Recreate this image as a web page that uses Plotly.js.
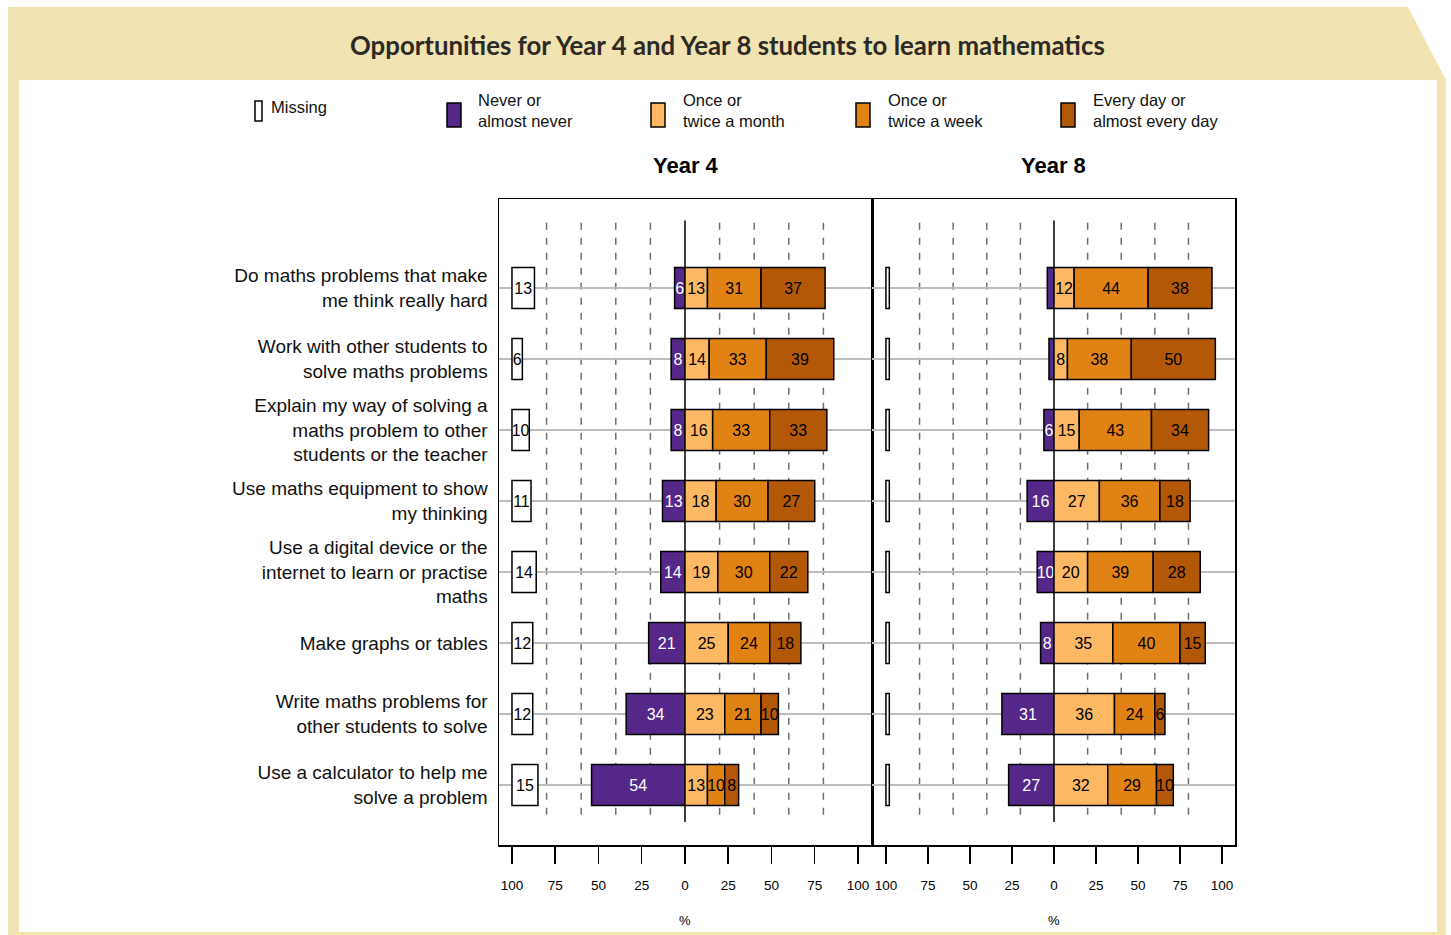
<!DOCTYPE html>
<html>
<head>
<meta charset="utf-8">
<script src="https://cdn.plot.ly/plotly-3.0.1.min.js"></script>
<style>html,body{margin:0;padding:0;background:#fff;}#chart{width:1451px;height:935px;}</style>
</head>
<body>
<div id="chart"></div>
<script>
// ---- data ----
var categories = [
  "Do maths problems that make<br>me think really hard",
  "Work with other students to<br>solve maths problems",
  "Explain my way of solving a<br>maths problem to other<br>students or the teacher",
  "Use maths equipment to show<br>my thinking",
  "Use a digital device or the<br>internet to learn or practise<br>maths",
  "Make graphs or tables",
  "Write maths problems for<br>other students to solve",
  "Use a calculator to help me<br>solve a problem"
];
var seriesNames = ["Missing", "Never or<br>almost never", "Once or<br>twice a month", "Once or<br>twice a week", "Every day or<br>almost every day"];
var seriesColors = ["#ffffff", "#542788", "#fdb863", "#e08214", "#b35806"];
var textColors = ["#000000", "#ffffff", "#000000", "#000000", "#000000"];

var y4Missing = [13, 6, 10, 11, 14, 12, 12, 15];
var y4Never   = [6, 8, 8, 13, 14, 21, 34, 54];
var y4Month   = [13, 14, 16, 18, 19, 25, 23, 13];
var y4Week    = [31, 33, 33, 30, 30, 24, 21, 10];
var y4Daily   = [37, 39, 33, 27, 22, 18, 10, 8];

var y8Missing = [2, 2, 2, 2, 2, 2, 2, 2];
var y8Never   = [4, 3, 6, 16, 10, 8, 31, 27];
var y8Month   = [12, 8, 15, 27, 20, 35, 36, 32];
var y8Week    = [44, 38, 43, 36, 39, 40, 24, 29];
var y8Daily   = [38, 50, 34, 18, 28, 15, 6, 10];

var tickVals = [-100, -75, -50, -25, 0, 25, 50, 75, 100];
var tickText = ["100", "75", "50", "25", "0", "25", "50", "75", "100"];
var panelTitles = ["Year 4", "Year 8"];

// ---- helpers ----
var W = 1451, H = 935;
function X(p) { return p / W; }
function Y(p) { return 1 - p / H; }
var rows = categories.map(function (c, i) { return i; });
var FONT = "Liberation Sans, Arial, Helvetica, sans-serif";

function labels(arr) { return arr.map(function (v) { return v >= 5 ? String(v) : ""; }); }

function panelTraces(d, xa, ya) {
  var missing = d[0], never = d[1], month = d[2], week = d[3], daily = d[4];
  var bases = [
    missing.map(function () { return -100; }),
    never.map(function (v) { return -v; }),
    month.map(function () { return 0; }),
    week.map(function (v, i) { return month[i]; }),
    daily.map(function (v, i) { return month[i] + week[i]; })
  ];
  return d.map(function (vals, k) {
    return {
      type: "bar", orientation: "h",
      x: vals, y: rows, base: bases[k],
      xaxis: xa, yaxis: ya, width: 0.58,
      name: seriesNames[k], showlegend: false, hoverinfo: "skip",
      marker: { color: seriesColors[k], line: { color: "#000000", width: 1.5 } },
      text: labels(vals), textposition: "inside", insidetextanchor: "middle",
      textangle: 0, constraintext: "none",
      insidetextfont: { family: FONT, size: 16, color: textColors[k] }
    };
  });
}

var traces = panelTraces([y4Missing, y4Never, y4Month, y4Week, y4Daily], "x", "y")
  .concat(panelTraces([y8Missing, y8Never, y8Month, y8Week, y8Daily], "x2", "y2"));

// ---- layout ----
var tan = "#f1e3b2";
var yRange = [(845 - 288) / 71, (199 - 288) / 71];
var shapes = [];
// header band & border
shapes.push({ type: "path", xref: "paper", yref: "paper", layer: "below", line: { width: 0 }, fillcolor: tan,
  path: "M" + X(8) + "," + Y(7) + " L" + X(1408) + "," + Y(7) + " L" + X(1446) + "," + Y(80) + " L" + X(8) + "," + Y(80) + " Z" });
shapes.push({ type: "rect", xref: "paper", yref: "paper", layer: "below", line: { width: 0 }, fillcolor: tan, x0: X(8), x1: X(19), y0: Y(80), y1: Y(935) });
shapes.push({ type: "rect", xref: "paper", yref: "paper", layer: "below", line: { width: 0 }, fillcolor: tan, x0: X(1437), x1: X(1446), y0: Y(80), y1: Y(935) });
shapes.push({ type: "rect", xref: "paper", yref: "paper", layer: "below", line: { width: 0 }, fillcolor: tan, x0: X(8), x1: X(1446), y0: Y(932), y1: Y(935) });

// dashed guide lines & zero lines
var dashVals = [-80, -60, -40, -20, 20, 40, 60, 80];
["x", "x2"].forEach(function (xa, pi) {
  var ya = pi === 0 ? "y" : "y2";
  dashVals.forEach(function (v) {
    shapes.push({ type: "line", xref: xa, yref: ya, layer: "below", x0: v, x1: v, y0: -0.92, y1: 7.52,
      line: { color: "#6e6e6e", width: 1.5, dash: "7px,8px" } });
  });
  shapes.push({ type: "line", xref: xa, yref: ya, layer: "below", x0: 0, x1: 0, y0: -0.95, y1: 7.52,
    line: { color: "#000000", width: 1.5 } });
});

// legend
var legendBoxes = [[255, 262, 101, 121], [447, 461, 103, 127], [651, 665, 103, 127], [856, 870, 103, 127], [1061, 1075, 103, 127]];
var legendText = [[269, 107], [476, 110], [681, 110], [886, 110], [1091, 110]];
var annotations = [];
seriesNames.forEach(function (n, k) {
  var b = legendBoxes[k];
  shapes.push({ type: "rect", xref: "paper", yref: "paper", x0: X(b[0]), x1: X(b[1]), y0: Y(b[2]), y1: Y(b[3]),
    fillcolor: seriesColors[k], line: { color: "#000000", width: 1.5 } });
  annotations.push({ xref: "paper", yref: "paper", x: X(legendText[k][0]), y: Y(legendText[k][1]),
    xanchor: "left", yanchor: "middle", align: "left", showarrow: false, text: n,
    font: { family: FONT, size: 16.5, color: "#111111" } });
});

annotations.push({ xref: "paper", yref: "paper", x: X(727), y: Y(45), xanchor: "center", yanchor: "middle", showarrow: false,
  text: "<b>Opportunities for Year 4 and Year 8 students to learn mathematics</b>",
  font: { family: "Lato, Open Sans, sans-serif", size: 25.8, color: "#2d2a26" } });
annotations.push({ xref: "paper", yref: "paper", x: X(685.5), y: Y(165), xanchor: "center", yanchor: "middle", showarrow: false,
  text: "<b>" + panelTitles[0] + "</b>", font: { family: FONT, size: 22, color: "#000000" } });
annotations.push({ xref: "paper", yref: "paper", x: X(1053.5), y: Y(165), xanchor: "center", yanchor: "middle", showarrow: false,
  text: "<b>" + panelTitles[1] + "</b>", font: { family: FONT, size: 22, color: "#000000" } });
annotations.push({ xref: "paper", yref: "paper", x: X(685), y: Y(920), xanchor: "center", yanchor: "middle", showarrow: false,
  text: "%", font: { family: FONT, size: 13, color: "#000000" } });
annotations.push({ xref: "paper", yref: "paper", x: X(1054), y: Y(920), xanchor: "center", yanchor: "middle", showarrow: false,
  text: "%", font: { family: FONT, size: 13, color: "#000000" } });

function xAxis(domain, range, anchor) {
  return { domain: domain, range: range, anchor: anchor, fixedrange: true,
    tickmode: "array", tickvals: tickVals, ticktext: tickText,
    ticks: "outside", ticklen: 17, tickwidth: 1.5, tickcolor: "#000000", ticklabelstandoff: 10,
    tickfont: { family: FONT, size: 13.5, color: "#000000" },
    showgrid: false, zeroline: false, showline: true, mirror: true, linecolor: "#000000", linewidth: 1.5 };
}
function yAxis(anchor, showLabels) {
  return { domain: [Y(845), Y(199)], range: yRange, anchor: anchor, fixedrange: true,
    tickmode: "array", tickvals: rows, ticktext: categories, showticklabels: showLabels,
    ticks: "", ticklabelstandoff: 6,
    tickfont: { family: FONT, size: 19, color: "#111111" },
    showgrid: true, gridcolor: "#bdbdbd", gridwidth: 1.5, zeroline: false,
    showline: true, mirror: true, linecolor: "#000000", linewidth: 1.5 };
}

var layout = {
  width: W, height: H, margin: { l: 0, r: 0, t: 0, b: 0 },
  paper_bgcolor: "#ffffff", plot_bgcolor: "rgba(0,0,0,0)",
  barmode: "overlay", showlegend: false,
  xaxis: xAxis([X(499), X(872)], [-107.5, 108.1], "y"),
  yaxis: yAxis("x", true),
  xaxis2: xAxis([X(872), X(1235)], [-108.3, 107.7], "y2"),
  yaxis2: yAxis("x2", false),
  shapes: shapes, annotations: annotations
};

Plotly.newPlot("chart", traces, layout, { staticPlot: true, displayModeBar: false });
</script>
</body>
</html>
